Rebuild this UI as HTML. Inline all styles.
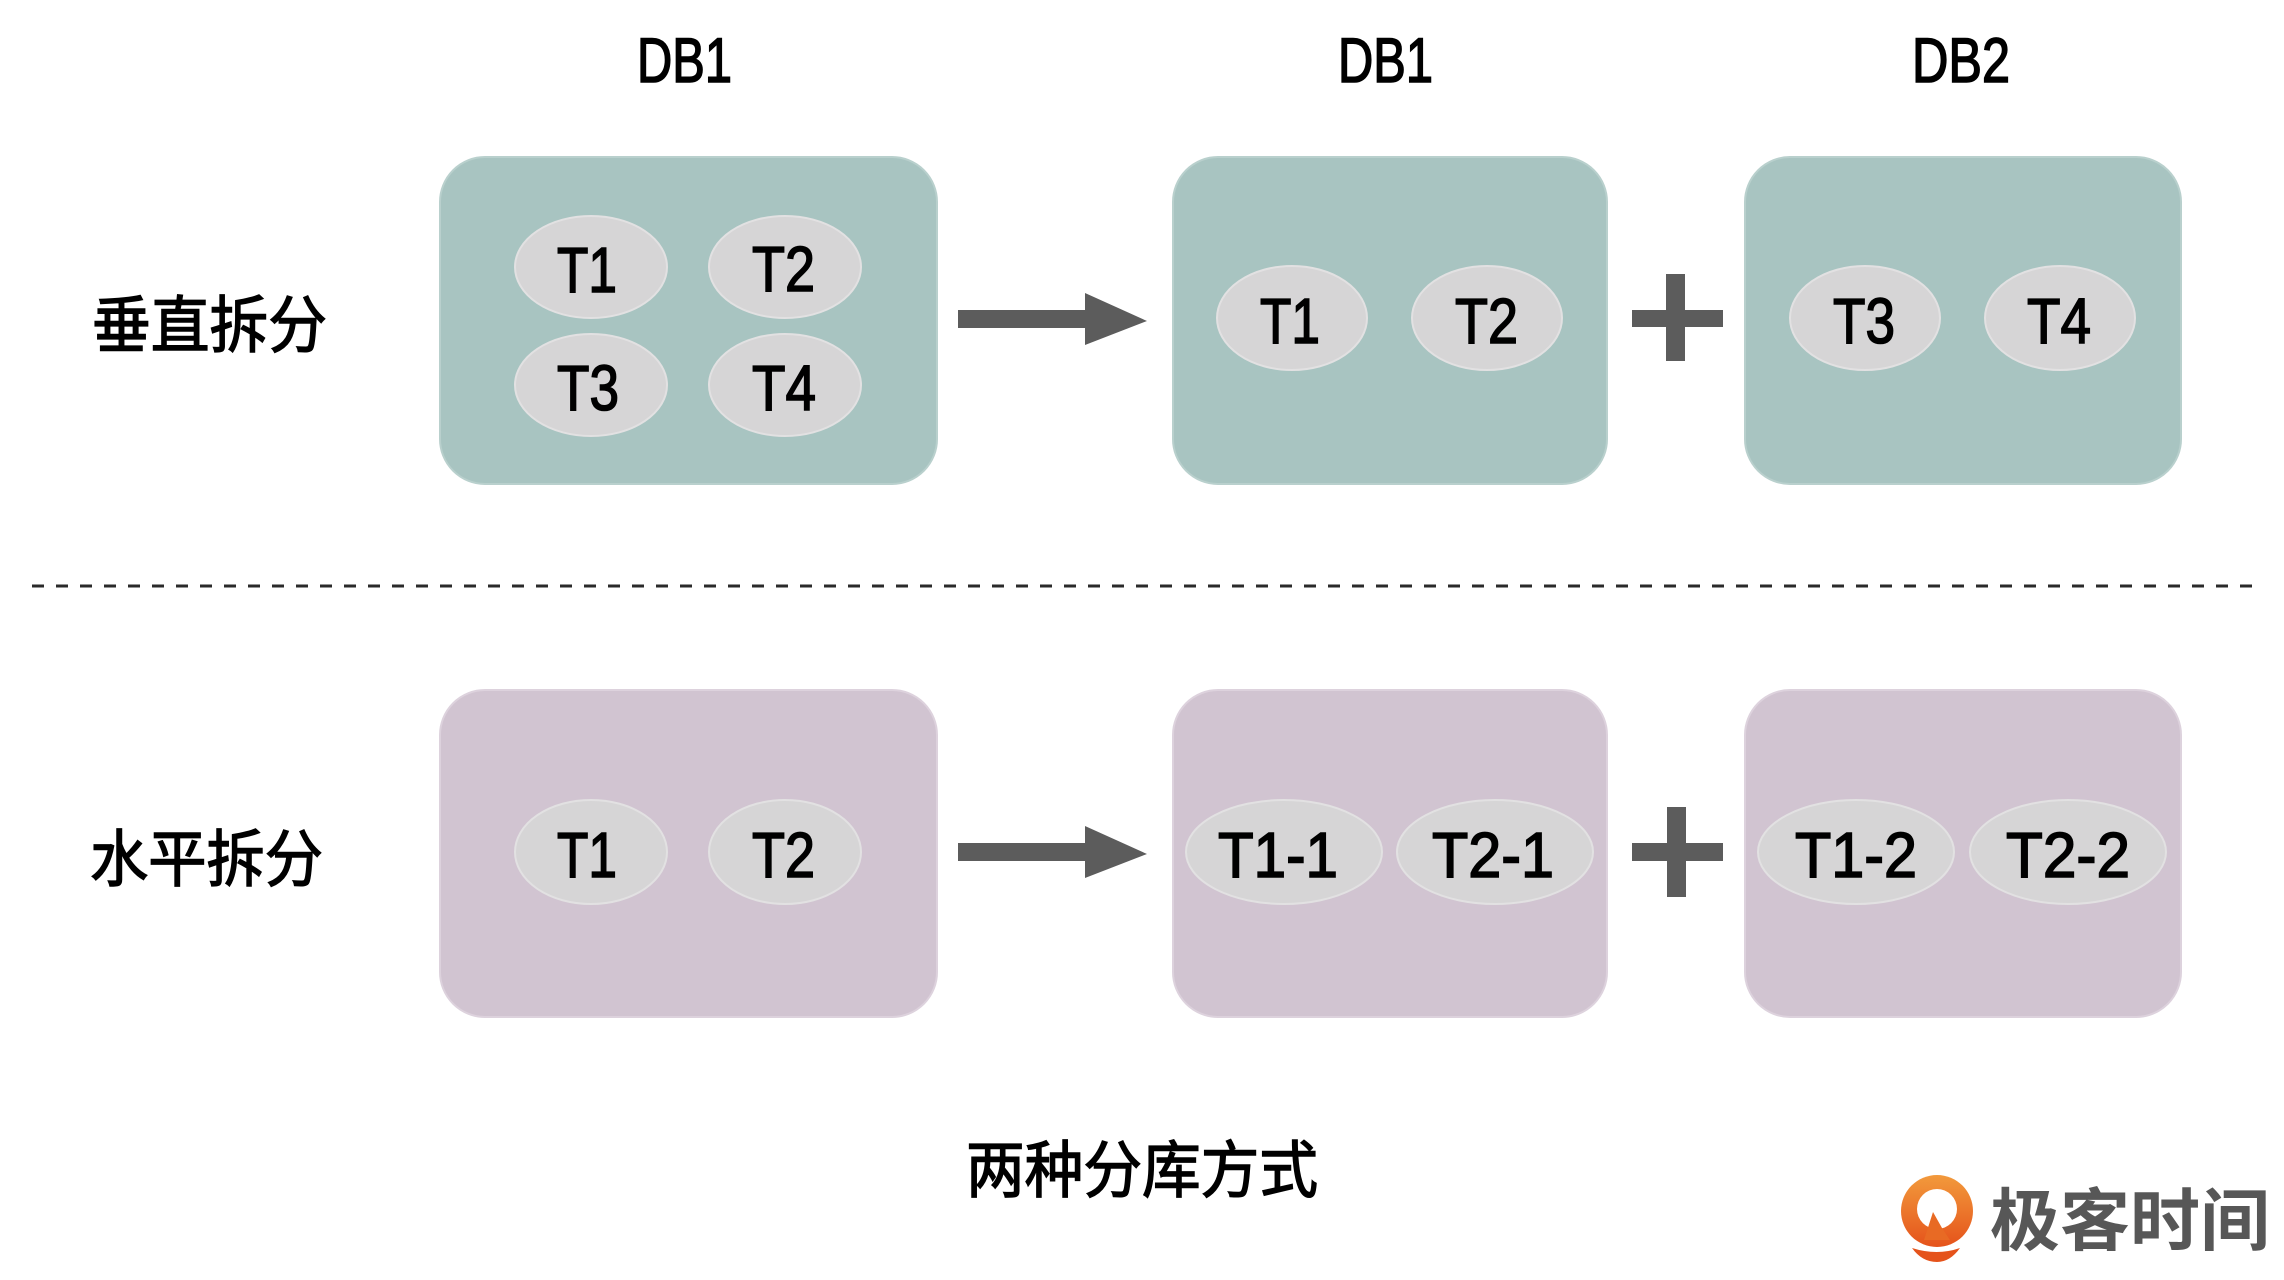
<!DOCTYPE html>
<html>
<head>
<meta charset="utf-8">
<style>
  html,body{margin:0;padding:0;background:#ffffff;}
  body{width:2284px;height:1280px;overflow:hidden;}
  svg{display:block;}
  .lbl{font-family:"Liberation Sans","Noto Sans CJK SC",sans-serif;fill:#000;stroke:#000;stroke-width:1.6;}
  .cjk{font-family:"Liberation Sans","Noto Sans CJK SC",sans-serif;fill:#000;stroke:#000;stroke-width:1.4;}
</style>
</head>
<body>
<svg width="2284" height="1280" viewBox="0 0 2284 1280" xmlns="http://www.w3.org/2000/svg">
  <defs>
    <linearGradient id="og" x1="0" y1="0" x2="0" y2="1">
      <stop offset="0" stop-color="#f29a3c"/>
      <stop offset="1" stop-color="#e5531b"/>
    </linearGradient>
  </defs>

  <!-- DB labels -->
  <text class="lbl" x="637" y="82" font-size="63" textLength="95" lengthAdjust="spacingAndGlyphs">DB1</text>
  <text class="lbl" x="1338" y="82" font-size="63" textLength="95" lengthAdjust="spacingAndGlyphs">DB1</text>
  <text class="lbl" x="1912" y="82" font-size="63" textLength="98" lengthAdjust="spacingAndGlyphs">DB2</text>

  <!-- Left labels -->
  <text class="cjk" x="92" y="347" font-size="62" textLength="235" lengthAdjust="spacingAndGlyphs">垂直拆分</text>
  <text class="cjk" x="90" y="881" font-size="62" textLength="233" lengthAdjust="spacingAndGlyphs">水平拆分</text>

  <!-- Top row boxes -->
  <rect x="440" y="157" width="497" height="327" rx="45" ry="45" fill="#a8c4c1" stroke="#b9d0cd" stroke-width="2"/>
  <rect x="1173" y="157" width="434" height="327" rx="45" ry="45" fill="#a8c4c1" stroke="#b9d0cd" stroke-width="2"/>
  <rect x="1745" y="157" width="436" height="327" rx="45" ry="45" fill="#a8c4c1" stroke="#b9d0cd" stroke-width="2"/>

  <!-- Bottom row boxes -->
  <rect x="440" y="690" width="497" height="327" rx="45" ry="45" fill="#d1c4d1" stroke="#ddd2dd" stroke-width="2"/>
  <rect x="1173" y="690" width="434" height="327" rx="45" ry="45" fill="#d1c4d1" stroke="#ddd2dd" stroke-width="2"/>
  <rect x="1745" y="690" width="436" height="327" rx="45" ry="45" fill="#d1c4d1" stroke="#ddd2dd" stroke-width="2"/>

  <!-- Ellipses -->
  <g fill="#d6d5d6" stroke="#e2e1e2" stroke-width="2">
    <ellipse cx="591" cy="267" rx="76" ry="51"/>
    <ellipse cx="785" cy="267" rx="76" ry="51"/>
    <ellipse cx="591" cy="385" rx="76" ry="51"/>
    <ellipse cx="785" cy="385" rx="76" ry="51"/>
    <ellipse cx="1292" cy="318" rx="75" ry="52"/>
    <ellipse cx="1487" cy="318" rx="75" ry="52"/>
    <ellipse cx="1865" cy="318" rx="75" ry="52"/>
    <ellipse cx="2060" cy="318" rx="75" ry="52"/>
    <ellipse cx="591" cy="852" rx="76" ry="52"/>
    <ellipse cx="785" cy="852" rx="76" ry="52"/>
    <ellipse cx="1284" cy="852" rx="98" ry="52"/>
    <ellipse cx="1495" cy="852" rx="98" ry="52"/>
    <ellipse cx="1856" cy="852" rx="98" ry="52"/>
    <ellipse cx="2068" cy="852" rx="98" ry="52"/>
  </g>

  <!-- Ellipse labels -->
  <g class="lbl" font-size="64">
    <text x="557" y="292" textLength="60" lengthAdjust="spacingAndGlyphs">T1</text>
    <text x="752" y="291" textLength="63" lengthAdjust="spacingAndGlyphs">T2</text>
    <text x="557" y="410" textLength="62" lengthAdjust="spacingAndGlyphs">T3</text>
    <text x="752" y="410" textLength="64" lengthAdjust="spacingAndGlyphs">T4</text>

    <text x="1260" y="343" textLength="60" lengthAdjust="spacingAndGlyphs">T1</text>
    <text x="1455" y="343" textLength="63" lengthAdjust="spacingAndGlyphs">T2</text>
    <text x="1833" y="343" textLength="62" lengthAdjust="spacingAndGlyphs">T3</text>
    <text x="2027" y="343" textLength="64" lengthAdjust="spacingAndGlyphs">T4</text>

    <text x="557" y="877" textLength="60" lengthAdjust="spacingAndGlyphs">T1</text>
    <text x="752" y="877" textLength="63" lengthAdjust="spacingAndGlyphs">T2</text>

    <text x="1218" y="877" textLength="120" lengthAdjust="spacingAndGlyphs">T1-1</text>
    <text x="1432" y="877" textLength="122" lengthAdjust="spacingAndGlyphs">T2-1</text>
    <text x="1795" y="877" textLength="122" lengthAdjust="spacingAndGlyphs">T1-2</text>
    <text x="2006" y="877" textLength="124" lengthAdjust="spacingAndGlyphs">T2-2</text>
  </g>

  <!-- Arrows -->
  <g fill="#5c5c5c">
    <rect x="958" y="310" width="132" height="18"/>
    <polygon points="1085,293 1147,321 1085,345"/>
    <rect x="958" y="843" width="132" height="18"/>
    <polygon points="1085,826 1147,854 1085,878"/>
  </g>

  <!-- Plus signs -->
  <g fill="#5c5c5c">
    <rect x="1666" y="274" width="19" height="87"/>
    <rect x="1632" y="310" width="91" height="17"/>
    <rect x="1667" y="807" width="19" height="90"/>
    <rect x="1632" y="843" width="91" height="18"/>
  </g>

  <!-- Dashed separator -->
  <line x1="32" y1="586" x2="2256" y2="586" stroke="#2a2a2a" stroke-width="3" stroke-dasharray="12 12"/>

  <!-- Caption -->
  <text class="cjk" x="966" y="1192" font-size="62" textLength="352" lengthAdjust="spacingAndGlyphs">两种分库方式</text>

  <!-- Logo -->
  <g>
    <circle cx="1937" cy="1211" r="36" fill="url(#og)"/>
    <circle cx="1937" cy="1209" r="20" fill="#ffffff"/>
    <polygon points="1924,1240 1933,1212 1942,1228 1950,1240" fill="#e86a24"/>
    <path d="M1912,1248 Q1937,1256 1960,1248 Q1950,1262 1937,1262 Q1922,1262 1912,1248 Z" fill="#e5531b"/>
    <text x="1990" y="1245" font-family="'Liberation Sans','Noto Sans CJK SC',sans-serif" font-weight="bold" font-size="68" fill="#575757" textLength="280" lengthAdjust="spacingAndGlyphs">极客时间</text>
  </g>
</svg>
</body>
</html>
